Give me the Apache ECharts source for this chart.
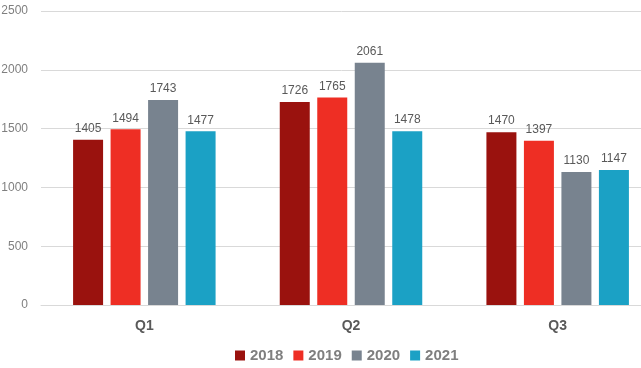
<!DOCTYPE html>
<html><head><meta charset="utf-8">
<script src="https://cdn.jsdelivr.net/npm/echarts@6/dist/echarts.min.js"></script>
<style>html,body{margin:0;padding:0;background:#fff}#c{width:641px;height:368px}</style>
</head><body><div id="c"></div>
<script>
const categories = ['Q1','Q2','Q3'];
const seriesNames = ['2018','2019','2020','2021'];
const v2018 = [1405, 1726, 1470];
const v2019 = [1494, 1765, 1397];
const v2020 = [1743, 2061, 1130];
const v2021 = [1477, 1478, 1147];
const yTicks = [0, 500, 1000, 1500, 2000, 2500];
const colors = ['#9A120E', '#EE2E24', '#78838F', '#1BA1C5'];
const values = [v2018, v2019, v2020, v2021];
const font = 'Liberation Sans, Arial, sans-serif';
const chart = echarts.init(document.getElementById('c'));
chart.setOption({
  animation: false,
  color: colors,
  textStyle: {fontFamily: font},
  legend: {
    top: 348, left: 235, padding: 0, itemWidth: 10, itemHeight: 10, itemGap: 10,
    icon: 'rect',
    textStyle: {fontSize: 15, fontWeight: 'bold', color: '#7F7F7F', fontFamily: font},
    data: seriesNames
  },
  grid: {left: 41, right: -20, top: 11, bottom: 63, outerBoundsMode: 'none', containLabel: false},
  xAxis: {
    type: 'category', data: categories,
    axisLine: {lineStyle: {color: '#D9D9D9'}},
    axisTick: {show: false},
    axisLabel: {fontSize: 14, fontWeight: 'bold', color: '#595959', margin: 14}
  },
  yAxis: {
    type: 'value', min: yTicks[0], max: yTicks[yTicks.length-1], interval: 500,
    axisLine: {show: false}, axisTick: {show: false},
    axisLabel: {fontSize: 12, color: '#7F7F7F', margin: 13, formatter: v => String(v)},
    splitLine: {lineStyle: {color: '#D9D9D9'}}
  },
  series: seriesNames.map((n, i) => ({
    name: n, type: 'bar', data: values[i], barWidth: 30, barGap: '25%',
    label: {show: true, position: 'top', fontSize: 12, color: '#595959', distance: 5}
  }))
});
</script></body></html>
